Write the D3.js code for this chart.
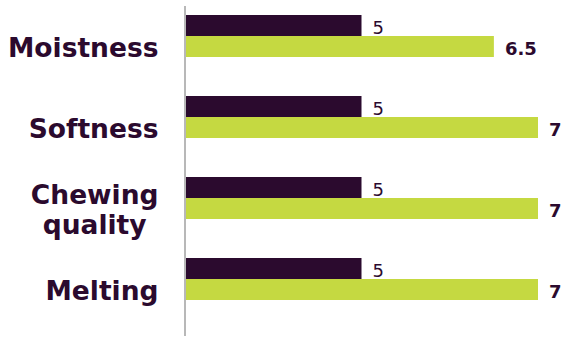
<!DOCTYPE html>
<html><head><meta charset="utf-8">
<script src="https://cdn.jsdelivr.net/npm/d3@7"></script>
<style>body{margin:0;background:#fff}svg{display:block}</style>
</head><body><svg id="c" width="576" height="344"></svg>
<script>
const categories = ["Moistness", "Softness", "Chewing quality", "Melting"];
const categoryLines = [["Moistness"], ["Softness"], ["Chewing", "quality"], ["Melting"]];
const seriesNames = ["Before", "After"];
const seriesBefore = [5, 5, 5, 5];
const seriesAfter = [6.5, 7, 7, 7];
const colors = ["#2b0a2e", "#c5d941"];
const textColor = "#2b0a2e";

const svg = d3.select("#c");
const x = d3.scaleLinear().domain([3, 7]).range([185, 538]);
const y = d3.scaleBand().domain(categories).range([-4.5, 319.5]).padding(0);
const ys = d3.scaleBand().domain(seriesNames).range([y.bandwidth()/2 - 21, y.bandwidth()/2 + 21]).padding(0);

const data = categories.map((c, i) => ({c, vals: [seriesBefore[i], seriesAfter[i]], lines: categoryLines[i]}));

const g = svg.append("g");
const grp = g.selectAll("g.grp").data(data).join("g").attr("transform", d => `translate(0,${y(d.c)})`);

grp.selectAll("rect").data(d => d.vals.map((v, j) => ({v, s: seriesNames[j], j})))
  .join("rect")
  .attr("x", x(3) + 1)
  .attr("y", d => ys(d.s))
  .attr("width", d => x(d.v) - x(3) - 1)
  .attr("height", ys.bandwidth())
  .attr("fill", d => colors[d.j]);

grp.selectAll("text.val").data(d => d.vals.map((v, j) => ({v, s: seriesNames[j], j})))
  .join("text").attr("class", "val")
  .attr("x", d => x(d.v) + 11)
  .attr("y", d => ys(d.s) + ys.bandwidth()/2 + 8.5)
  .attr("font-family", "DejaVu Sans")
  .attr("font-size", 18)
  .attr("font-weight", d => d.j === 0 ? "normal" : "bold")
  .attr("fill", textColor)
  .text(d => d.v);

// category labels
grp.each(function(d) {
  const gc = ys("After") + ys.bandwidth()/2;
  const n = d.lines.length;
  const t = d3.select(this).append("text")
    .attr("font-family", "DejaVu Sans").attr("font-size", 26.5).attr("font-weight", "bold")
    .attr("fill", textColor).attr("text-anchor", "middle");
  const tspans = d.lines.map((l, k) => t.append("tspan").text(l)
      .attr("y", gc + 10 - (n - 1) * 15 + k * 30));
  let maxW = 0;
  tspans.forEach(ts => { maxW = Math.max(maxW, ts.node().getComputedTextLength()); });
  tspans.forEach(ts => ts.attr("x", 158.5 - maxW/2));
});

// axis line
svg.append("line").attr("x1", 185).attr("x2", 185).attr("y1", 6).attr("y2", 336)
  .attr("stroke", "#b8b8b8").attr("stroke-width", 2);
</script></body></html>
